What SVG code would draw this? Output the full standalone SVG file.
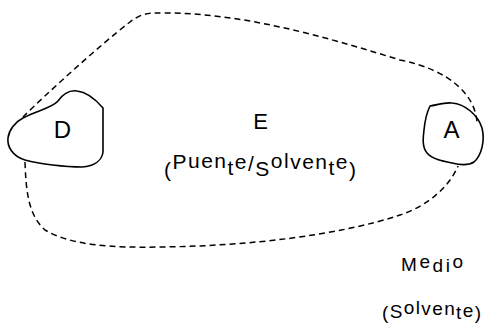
<svg xmlns="http://www.w3.org/2000/svg" width="485" height="324" viewBox="0 0 485 324">
<style>
.blob{fill:none;stroke:#000;stroke-width:1.6;stroke-linejoin:round}
.dash{fill:none;stroke:#000;stroke-width:1.5;stroke-dasharray:6 4}
.lbl{font-family:"Liberation Sans",Arial,sans-serif;fill:#000}
</style>
<rect width="485" height="324" fill="#fff"/>
<g id="connectors">
<path class="dash" d="M 23,117 C 45,95 100,45 130,22 C 143,12 150,13 165,13 C 240,13 320,35 400,60 C 450,70 475,95 477,122"/>
<path class="dash" d="M 25,162 C 26,190 28,215 45,230 C 70,245 110,248 160,247 C 250,246 340,235 400,215 C 430,205 450,185 458,166"/>
</g>
<g id="node-D">
<path class="blob" d="M 23,118 C 38,110 52,108 58,101 C 63,94 70,90 77,91 C 88,92 97,101 103,108 L 103,152 C 102,160 95,166 82,167 C 65,167 40,164 25,160 C 12,156 7,146 8,138 C 9,130 15,122 23,118 Z"/>
<text class="lbl" x="62.5" y="138" font-size="24" text-anchor="middle">D</text>
</g>
<g id="node-A">
<path class="blob" d="M 430,106 C 437,105 445,102 452,103 C 465,104 478,115 482,128 C 485,140 482,155 474,162 C 468,166 460,165 452,163 C 442,161 432,159 427,153 C 422,147 423,138 424,130 C 425,120 427,112 430,106 Z"/>
<text class="lbl" x="451.5" y="138" font-size="24" text-anchor="middle">A</text>
</g>
<g id="node-E">
<text class="lbl" x="260.5" y="129" font-size="22" text-anchor="middle">E</text>
<text class="lbl" x="164" y="169" font-size="21" textLength="192" lengthAdjust="spacing"><tspan y="177">(</tspan><tspan y="169">P</tspan><tspan y="168">uen</tspan><tspan y="175">t</tspan><tspan y="169">e</tspan><tspan y="171">/</tspan><tspan y="176">S</tspan><tspan y="168">ol</tspan><tspan y="169">ven</tspan><tspan y="175">t</tspan><tspan y="169">e</tspan><tspan y="177">)</tspan></text>
</g>
<g id="node-Medio">
<text class="lbl" x="401" y="271" font-size="19" textLength="62" lengthAdjust="spacing"><tspan y="271">M</tspan><tspan y="268">e</tspan><tspan y="272">di</tspan><tspan y="268">o</tspan></text>
<text class="lbl" x="382" y="318" font-size="19" textLength="99" lengthAdjust="spacing"><tspan y="319">(</tspan><tspan y="318">S</tspan><tspan y="314">ol</tspan><tspan y="315">ven</tspan><tspan y="319">t</tspan><tspan y="317">e</tspan><tspan y="319">)</tspan></text>
</g>
</svg>
